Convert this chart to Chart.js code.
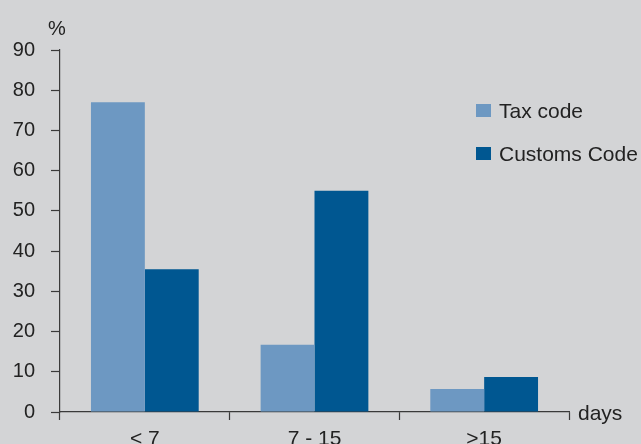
<!DOCTYPE html>
<html>
<head>
<meta charset="utf-8">
<script src="https://cdn.jsdelivr.net/npm/chart.js@4/dist/chart.umd.min.js"></script>
<style>
  html, body { margin: 0; padding: 0; background: #d3d4d6; }
  #wrap { width: 641px; height: 444px; position: relative; }
</style>
</head>
<body>
<div id="wrap"><canvas id="c" width="641" height="444"></canvas></div>
<script>
// Share of procedures by duration, in percent
const categories = ['< 7', '7 - 15', '>15'];
const taxCode = [77, 16.7, 5.7];
const customsCode = [35.5, 55, 8.7];
const yTicks = [0, 10, 20, 30, 40, 50, 60, 70, 80, 90];
const seriesNames = ['Tax code', 'Customs Code'];

const INK = '#222222';
const AXIS = '#3a3a3a';
const FONT = 'Liberation Sans, Arial, Helvetica, sans-serif';
const TICK_SIZE = 20;
const TEXT_SIZE = 21;

// Unit labels ("%" above the value axis, "days" after the category axis) and the legend
const extras = {
  id: 'extras',
  afterDraw(chart) {
    const { ctx, chartArea, scales } = chart;
    ctx.save();
    ctx.fillStyle = INK;
    ctx.font = TICK_SIZE + 'px ' + FONT;
    ctx.textBaseline = 'middle';
    ctx.textAlign = 'center';
    ctx.fillText('%', scales.y.right - 3, chartArea.top - 21);
    ctx.font = TEXT_SIZE + 'px ' + FONT;
    ctx.textAlign = 'left';
    ctx.fillText('days', chartArea.right + 9, chartArea.bottom + 2);

    // legend
    const lx = chartArea.right - 93;
    const rows = [chartArea.top + 61, chartArea.top + 104];
    chart.data.datasets.forEach((ds, i) => {
      ctx.fillStyle = ds.backgroundColor;
      ctx.fillRect(lx, rows[i] - 7, 15, 13);
      ctx.fillStyle = INK;
      ctx.fillText(ds.label, lx + 23, rows[i] + 1);
    });
    ctx.restore();
  }
};

new Chart(document.getElementById('c'), {
  type: 'bar',
  data: {
    labels: categories,
    datasets: [
      { label: seriesNames[0], data: taxCode, backgroundColor: '#6d98c2' },
      { label: seriesNames[1], data: customsCode, backgroundColor: '#005791' }
    ]
  },
  options: {
    responsive: false,
    animation: false,
    devicePixelRatio: 1,
    layout: { padding: { top: 50, right: 72, left: 0, bottom: 0 } },
    datasets: { bar: { barPercentage: 1, categoryPercentage: 0.635, borderWidth: 0 } },
    plugins: { legend: { display: false }, tooltip: { enabled: false } },
    scales: {
      x: {
        offset: true,
        grid: { display: true, drawOnChartArea: false, offset: true, color: AXIS, tickLength: 8, tickWidth: 1.2 },
        border: { display: true, color: AXIS, width: 1.2 },
        ticks: { color: INK, font: { family: FONT, size: TEXT_SIZE }, padding: 7, maxRotation: 0 },
        afterFit(scale) { scale.height = 32; }
      },
      y: {
        min: 0, max: 90,
        afterBuildTicks(scale) { scale.ticks = yTicks.map(v => ({ value: v })); },
        grid: { display: true, drawOnChartArea: false, color: AXIS, tickLength: 9, tickWidth: 1.2 },
        border: { display: true, color: AXIS, width: 1.2 },
        ticks: { color: INK, font: { family: FONT, size: TICK_SIZE }, padding: 16 },
        afterFit(scale) { scale.width = 60; }
      }
    }
  },
  plugins: [extras]
});
</script>
</body>
</html>
